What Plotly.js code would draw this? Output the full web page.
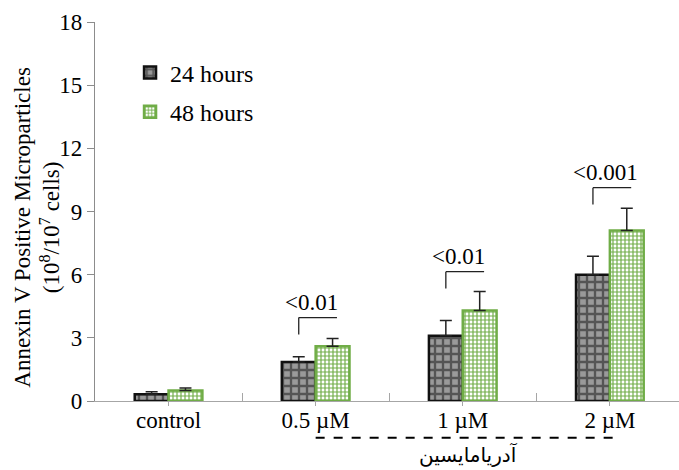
<!DOCTYPE html>
<html>
<head>
<meta charset="utf-8">
<script src="https://cdn.plot.ly/plotly-3.0.1.min.js"></script>
<style>html,body{margin:0;padding:0;background:#fff;}#chart{width:679px;height:470px;}</style>
</head>
<body>
<div id="chart"></div>
<script>
const categories = ["control", "0.5 µM", "1 µM", "2 µM"];
const seriesNames = ["24 hours", "48 hours"];
const h24 = [0.32, 1.85, 3.1, 6.0];
const h24err = [0.12, 0.25, 0.72, 0.87];
const h48 = [0.5, 2.6, 4.3, 8.1];
const h48err = [0.12, 0.37, 0.9, 1.05];
const pLabels = ["", "<0.01", "<0.01", "<0.001"];
const bracketLevels = [null, 3.96, 6.14, 10.13];
const drugLabel = "آدریامایسین";
const yTicks = [0, 3, 6, 9, 12, 15, 18];

const xs = categories.map((c, i) => i);
const FONT = "Liberation Serif";
const bargap = 0.54;
const halfBar = (1 - bargap) / 4;

const traces = [
  {
    type: "bar", name: seriesNames[0], x: xs, y: h24, legendgroup: "a",
    marker: {
      color: "#8a8a8a",
      line: {color: "#111", width: 2.5},
      pattern: {shape: "+", fgcolor: "#555", bgcolor: "#9a9a9a", size: 8, solidity: 0.5}
    },
    error_y: {type: "data", array: h24err, arrayminus: h24err.map(() => 0), symmetric: false, color: "#222", thickness: 1.5, width: 6}
  },
  {
    type: "bar", name: seriesNames[1], x: xs, y: h48, legendgroup: "b",
    marker: {
      color: "#b9d9a3",
      line: {color: "#70AD47", width: 2.5},
      pattern: {shape: "+", fgcolor: "#70AD47", bgcolor: "#ffffff", size: 4, solidity: 0.5}
    },
    error_y: {type: "data", array: h48err, arrayminus: h48err.map(() => 0), symmetric: false, color: "#222", thickness: 1.5, width: 6}
  }
];

const shapes = [];
const annotations = [];
categories.forEach((c, i) => {
  if (bracketLevels[i] === null) return;
  const lv = bracketLevels[i];
  shapes.push({type: "line", xref: "x", yref: "y", x0: i - halfBar, x1: i - halfBar, y0: lv - 0.8, y1: lv, line: {color: "#222", width: 1.3}});
  shapes.push({type: "line", xref: "x", yref: "y", x0: i - halfBar, x1: i + halfBar + 0.03, y0: lv, y1: lv, line: {color: "#222", width: 1.3}});
  annotations.push({xref: "x", yref: "y", x: i - 0.03, y: lv, text: pLabels[i], showarrow: false, xanchor: "center", yanchor: "bottom", yshift: 1, font: {family: FONT, size: 23, color: "#000"}});
});
shapes.push({type: "line", xref: "x", yref: "paper", x0: 1, x1: 3.05, y0: -0.097, y1: -0.097, line: {color: "#000", width: 2, dash: "dash"}});
annotations.push({xref: "x", yref: "paper", x: 2.04, y: -0.142, xanchor: "center", yanchor: "middle", text: drugLabel, showarrow: false, font: {family: "DejaVu Sans", size: 20, color: "#000"}});
annotations.push({xref: "paper", yref: "paper", x: -0.1, y: 0.459, xanchor: "center", yanchor: "middle", text: "Annexin V Positive Microparticles<br>(10<sup>8</sup>/10<sup>7</sup> cells)", textangle: -90, showarrow: false, font: {family: FONT, size: 23, color: "#000"}});

const layout = {
  width: 679, height: 470,
  margin: {l: 95, r: 0, t: 22, b: 69},
  paper_bgcolor: "#fff", plot_bgcolor: "#fff",
  barmode: "group", bargap: bargap, bargroupgap: 0,
  font: {family: FONT, size: 23, color: "#000"},
  showlegend: true,
  legend: {x: 0.06, y: 0.925, xanchor: "left", yanchor: "top", bgcolor: "rgba(0,0,0,0)", font: {family: FONT, size: 24, color: "#000"}, tracegroupgap: 5, traceorder: "grouped"},
  xaxis: {
    range: [-0.5, 3.47], tickvals: xs, ticktext: categories,
    showline: true, linecolor: "#a6a6a6", linewidth: 1.2,
    ticks: "outside", ticklen: 4, tickcolor: "#a6a6a6", ticklabelstandoff: -6,
    minor: {tickvals: [0.5, 1.5, 2.5], ticks: "inside", ticklen: 8, tickcolor: "#a6a6a6", showgrid: false},
    showgrid: false, zeroline: false, tickfont: {family: FONT, size: 23, color: "#000"}
  },
  yaxis: {
    range: [0, 18], tickvals: yTicks, ticktext: yTicks.map(String),
    showline: true, linecolor: "#8c8c8c", linewidth: 1.2,
    ticks: "outside", ticklen: 7, tickcolor: "#8c8c8c",
    showgrid: false, zeroline: false, tickfont: {family: FONT, size: 23, color: "#000"}
  },
  shapes: shapes,
  annotations: annotations
};

Plotly.newPlot("chart", traces, layout, {displayModeBar: false, staticPlot: true});
</script>
</body>
</html>
